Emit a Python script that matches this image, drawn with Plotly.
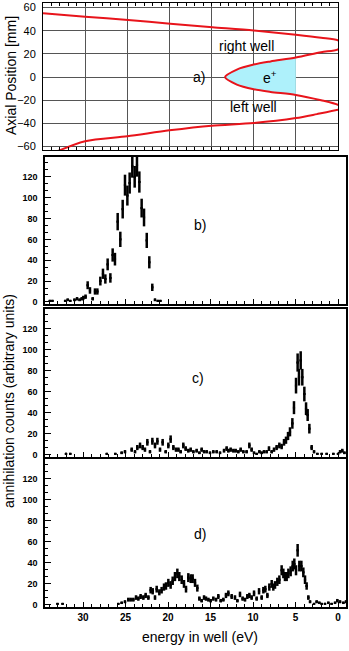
import numpy as np
import plotly.graph_objects as go

# panel a) potential well: energy (eV) vs axial position (mm)
well_energy = [35, 30, 24.9, 19.9, 14.9, 10, 5, 2, 0, -0.6, 0, 2, 5, 8, 10, 12, 13.4,
               12, 10, 8, 5, 2, 0, -0.6, 0, 2.5, 5, 10, 15, 20, 25, 30, 33.6]
well_position = [55.1, 52.2, 49.4, 46, 43.1, 40.3, 36.6, 34, 31.7, 28, 24, 21.5, 16.9, 13.5, 10.8, 6.5, 0,
                 -6.5, -10.5, -12.8, -15.4, -20, -24, -27, -28.3, -32, -35.4, -39.7, -42, -46, -51.1, -55.4, -65]
cloud_energy = [5, 8, 10, 12, 13.4, 12, 10, 8, 5]
cloud_position = [16.9, 13.5, 10.8, 6.5, 0, -6.5, -10.5, -12.8, -15.4]

# panel b)
energy_b = [33.9, 33.6, 32.1, 31.8, 31.5, 31.0, 30.7, 30.4, 30.15, 29.96, 29.7, 29.45, 29.18, 28.86,
            28.59, 28.31, 27.96, 27.65, 27.37, 27.1, 26.78, 26.51, 26.24, 25.92, 25.61, 25.33, 25.06,
            24.78, 24.51, 24.2, 23.92, 23.65, 23.37, 23.1, 22.82, 22.5, 22.2, 21.85, 21.53, 21.2, 20.9]
counts_b = [1, 1, 1, 2, 1, 2, 3, 2, 3, 4, 5, 16, 11, 3,
            10, 10, 20, 27, 22, 36, 23, 45, 41, 77, 60, 89, 112,
            102, 114, 130, 120, 131, 115, 90, 81, 59, 38, 14, 2, 1, 1]

# panel c)
energy_c = [32.0, 31.5, 27.2, 26.2, 25.45, 25.06, 24.27, 23.88, 23.61, 23.29, 22.98, 22.71, 22.43, 22.12,
            21.84, 21.53, 21.25, 20.94, 20.63, 20.27, 19.96, 19.69, 19.37, 19.06, 18.78, 18.51, 18.2,
            17.92, 17.61, 17.33, 17.02, 16.63, 16.31, 16.04, 15.76, 15.45, 15.06, 14.67, 14.27, 13.88,
            13.41, 13.1, 12.9, 12.63, 12.31, 12.04, 11.73, 11.45, 11.14, 10.75, 10.43, 10.16, 9.88, 9.57,
            9.25, 8.98, 8.71, 8.39, 8.12, 7.8, 7.53, 7.22, 6.9, 6.63, 6.35, 6.12, 5.88, 5.65, 5.37, 5.18,
            4.94, 4.75, 4.59, 4.39, 4.2, 3.96, 3.76, 3.57, 3.37, 3.1, 2.82, 2.43, 1.92, 1.33, 0.55, 0.0,
            -0.24, -0.5, -0.75]
counts_c = [1, 1, 1, 1, 2, 3, 5, 3, 7, 9, 7, 5, 12, 3,
            13, 9, 13, 5, 12, 3, 9, 15, 7, 5, 5, 3, 9,
            6, 4, 5, 3, 4, 2, 5, 3, 3, 2, 3, 3, 2,
            4, 6, 4, 5, 4, 4, 3, 5, 3, 3, 9, 5, 2, 1,
            3, 2, 3, 3, 6, 3, 5, 7, 9, 8, 12, 14, 18, 22, 30, 45,
            66, 88, 74, 90, 74, 58, 44, 38, 25, 7, 3, 1, 1, 1, 1, 1,
            3, 4, 2]

# panel d)
energy_d = [33.0, 32.4, 25.85, 25.45, 25.06, 24.67, 24.39, 24.08, 23.76, 23.49, 23.22, 22.9, 22.63, 22.31,
            22.04, 21.8, 21.53, 21.33, 21.02, 20.75, 20.47, 20.24, 19.96, 19.69, 19.45, 19.18, 18.9, 18.67,
            18.39, 18.12, 17.88, 17.61, 17.33, 17.1, 16.82, 16.55, 16.31, 16.04, 15.76, 15.53, 15.25, 14.98,
            14.67, 14.35, 14.08, 13.8, 13.49, 13.18, 12.9, 12.51, 12.12, 11.84, 11.53, 11.22, 10.94, 10.67,
            10.43, 10.16, 9.88, 9.57, 9.29, 8.98, 8.78, 8.55, 8.31, 8.08, 7.8, 7.61, 7.41, 7.14, 6.9, 6.63,
            6.43, 6.24, 6.04, 5.84, 5.57, 5.33, 5.14, 4.94, 4.75, 4.55, 4.31, 4.08, 3.88, 3.69, 3.49, 3.29,
            2.82, 2.51, 2.2, 1.92, 1.53, 1.14, 0.75, 0.35, 0.08, -0.24, -0.63, -0.94]
counts_d = [1, 1, 1, 2, 3, 5, 5, 5, 7, 6, 8, 7, 9, 7,
            14, 13, 7, 15, 12, 14, 17, 18, 21, 19, 23, 27, 30, 27,
            24, 20, 15, 26, 25, 25, 21, 16, 6, 4, 7, 6, 5, 4,
            6, 5, 8, 4, 5, 9, 11, 8, 7, 4, 10, 6, 5, 8,
            9, 7, 11, 6, 13, 7, 14, 15, 9, 17, 20, 17, 19, 22, 24, 33,
            30, 27, 27, 30, 32, 37, 39, 33, 52, 37, 37, 31, 24, 18, 7, 3,
            1, 3, 2, 1, 1, 2, 1, 2, 4, 3, 2, 3]

W, H = 349, 651
FONT = "Liberation Sans, Arial, sans-serif"


def dom_x(left, right):
    return [left / W, right / W]


def dom_y(top, bottom):
    return [1 - bottom / H, 1 - top / H]


fig = go.Figure()

# panel a
fig.add_trace(go.Scatter(x=cloud_energy, y=cloud_position, mode="lines", line=dict(width=0, shape="spline"),
                         fill="toself", fillcolor="#aef1fb", xaxis="x", yaxis="y", hoverinfo="skip"))
fig.add_trace(go.Scatter(x=well_energy, y=well_position, mode="lines",
                         line=dict(color="#e8141b", width=2, shape="spline", smoothing=0.8),
                         xaxis="x", yaxis="y"))

panels = [(energy_b, counts_b, 0.9, "2"), (energy_c, counts_c, 0.85, "3"), (energy_d, counts_d, 0.7, "4")]
for e, c, s, n in panels:
    err = np.sqrt(s * np.array(c))
    fig.add_trace(go.Scatter(
        x=e, y=c, mode="markers", xaxis="x" + n, yaxis="y" + n,
        marker=dict(size=2, color="black", symbol="square"),
        error_y=dict(type="data", array=err, thickness=2.5, width=0, color="black"),
        error_x=dict(type="constant", value=0.13, thickness=2, width=0, color="black"),
    ))

bottom_x = dict(range=[34.47, -0.94], dtick=5, tick0=0, ticks="inside", ticklen=5, tickcolor="black",
                minor=dict(dtick=1, ticks="inside", ticklen=3, tickcolor="black"),
                showline=True, linecolor="black", linewidth=1.5, mirror=True, showgrid=False, zeroline=False,
                domain=dom_x(45, 346), automargin=False)
bottom_y = dict(range=[-2, 139], tickvals=[0, 20, 40, 60, 80, 100, 120], ticks="inside", ticklen=6,
                tickcolor="black", minor=dict(dtick=20 / 3, ticks="inside", ticklen=3, tickcolor="black"),
                showline=True, linecolor="black", linewidth=1.5, mirror=True, showgrid=False, zeroline=False,
                tickfont=dict(size=9, color="black", weight="bold"), ticklabelstandoff=4, automargin=False)

fig.update_layout(
    width=W, height=H, margin=dict(l=0, r=0, t=0, b=0),
    paper_bgcolor="white", plot_bgcolor="white", showlegend=False,
    font=dict(family=FONT, color="black"),
    xaxis=dict(range=[35, 0], domain=dom_x(43, 338), dtick=5, tick0=0, showticklabels=False,
               showgrid=True, gridcolor="#555", gridwidth=1, ticks="inside", ticklen=3, tickcolor="black",
               minor=dict(dtick=1, ticks="inside", ticklen=3, tickcolor="black"),
               showline=True, linecolor="black", linewidth=1, mirror="allticks", zeroline=False,
               automargin=False),
    yaxis=dict(range=[-63, 64], domain=dom_y(3, 150), dtick=20, tick0=0, showgrid=True, gridcolor="#555",
               gridwidth=1, showline=True, linecolor="black", linewidth=1, mirror=True, zeroline=False,
               tickfont=dict(size=11, color="black"), ticklabelstandoff=4, automargin=False),
    xaxis2=dict(bottom_x, showticklabels=False, anchor="y2"),
    yaxis2=dict(bottom_y, domain=dom_y(157, 304), anchor="x2"),
    xaxis3=dict(bottom_x, showticklabels=False, anchor="y3"),
    yaxis3=dict(bottom_y, domain=dom_y(309, 457), anchor="x3"),
    xaxis4=dict(bottom_x, showticklabels=True, anchor="y4",
                tickfont=dict(size=10, color="black", weight="bold")),
    yaxis4=dict(bottom_y, domain=dom_y(459, 607), anchor="x4"),
)

txt = dict(size=14, color="black", family=FONT)
notes = [
    dict(x=10.9, y=26.6, xref="x", yref="y", text="right well"),
    dict(x=10, y=-25.7, xref="x", yref="y", text="left well"),
    dict(x=16.5, y=0, xref="x", yref="y", text="a)"),
    dict(x=8.1, y=0, xref="x", yref="y", text="e<sup>+</sup>"),
    dict(x=16.2, y=74, xref="x2", yref="y2", text="b)"),
    dict(x=16.5, y=73, xref="x3", yref="y3", text="c)"),
    dict(x=16.2, y=68, xref="x4", yref="y4", text="d)"),
    dict(x=11 / W, y=1 - 76 / H, xref="paper", yref="paper", text="Axial Position [mm]", textangle=-90),
    dict(x=9 / W, y=1 - 401 / H, xref="paper", yref="paper", text="annihilation counts (arbitrary units)",
         textangle=-90),
    dict(x=200 / W, y=1 - 637 / H, xref="paper", yref="paper", text="energy in well (eV)"),
]
for a in notes:
    fig.add_annotation(showarrow=False, font=txt, xanchor="center", yanchor="middle", **a)

# page body has a default 8px margin; drop it so the figure fills the window
fig.write_html("out.html", config={"displayModeBar": False},
               post_script="document.body.style.margin='0';")
